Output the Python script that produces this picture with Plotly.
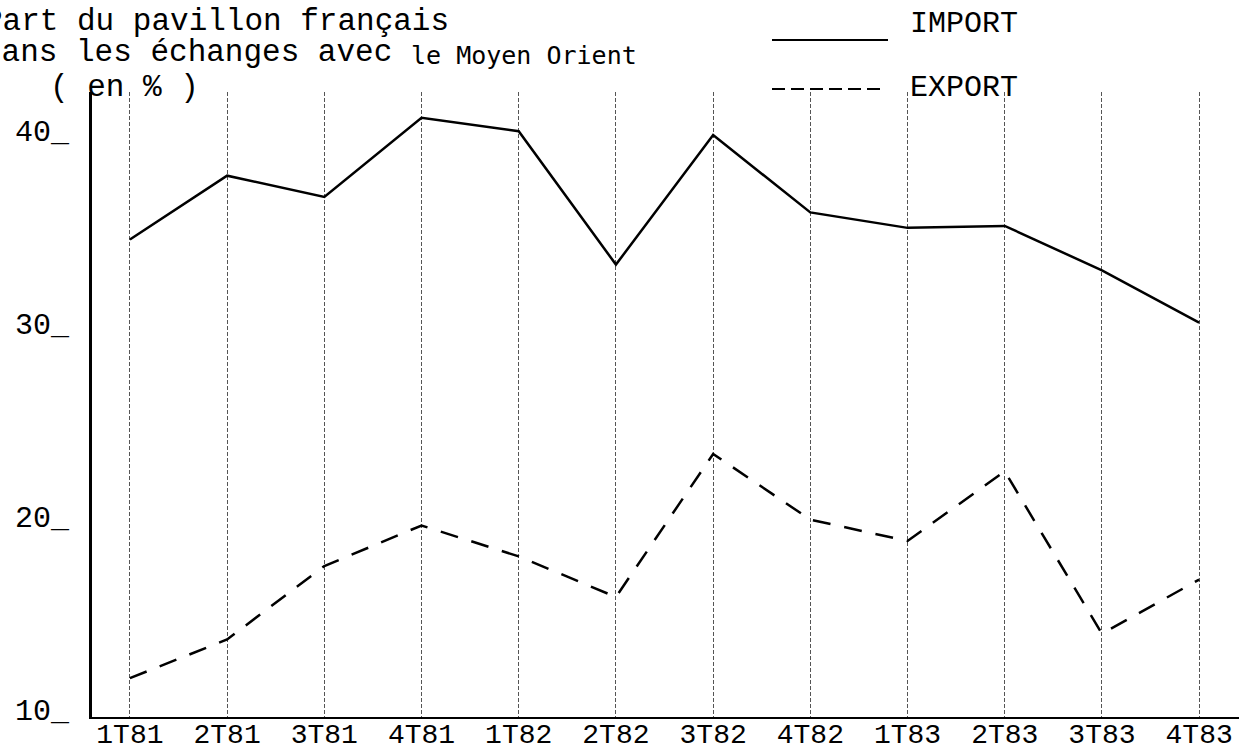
import plotly.graph_objects as go

quarters = ["1T81", "2T81", "3T81", "4T81", "1T82", "2T82",
            "3T82", "4T82", "1T83", "2T83", "3T83", "4T83"]
import_pct = [34.7, 38.0, 36.9, 41.0, 40.3, 33.4, 40.1, 36.1, 35.3, 35.4, 33.1, 30.4]
export_pct = [12.0, 14.0, 17.8, 19.9, 18.3, 16.2, 23.6, 20.2, 19.1, 22.7, 14.3, 17.1]
y_ticks = [10, 20, 30, 40]

W, H = 1239, 746
L, R, T, B = 92, 0, 92, 29
PW, PH = W - L - R, H - T - B

def px(x):
    return (x - L) / PW

def py(y):
    return (H - B - y) / PH

FONT = "Liberation Mono"
idx = list(range(len(quarters)))

fig = go.Figure()
fig.add_trace(go.Scatter(x=idx, y=import_pct, mode="lines", name="IMPORT",
                         line=dict(color="black", width=2.5), showlegend=False))
fig.add_trace(go.Scatter(x=idx, y=export_pct, mode="lines", name="EXPORT",
                         line=dict(color="black", width=2.5, dash="18px,14px"),
                         showlegend=False))

fig.update_layout(
    template="none",
    width=W, height=H,
    margin=dict(l=L, r=R, t=T, b=B, autoexpand=False),
    paper_bgcolor="white", plot_bgcolor="white",
    font=dict(family=FONT, size=30, color="black"),
    showlegend=False,
    xaxis=dict(
        range=[-0.39, 11.41], tickvals=idx, ticktext=quarters,
        showgrid=True, gridcolor="#555", gridwidth=1, griddash="4px,2px",
        showline=True, linecolor="black", linewidth=2,
        ticks="", zeroline=False, ticklabelstandoff=-10, automargin=False,
        tickfont=dict(family=FONT, size=28, color="black"),
    ),
    yaxis=dict(
        range=[9.99, 42.33], tickvals=y_ticks, ticktext=[f"{v}_" for v in y_ticks],
        showgrid=False, showline=True, linecolor="black", linewidth=3,
        ticks="", zeroline=False, ticklabelstandoff=14, ticklabelshift=-7,
        automargin=False,
        tickfont=dict(family=FONT, size=30, color="black"),
    ),
)

ann = [
    dict(text="Part du pavillon français", x=px(-18), y=py(21), font_size=31),
    dict(text="dans les échanges avec", x=px(-19), y=py(53), font_size=31),
    dict(text="le Moyen Orient", x=px(409), y=py(55),
         font=dict(family="DejaVu Sans Mono", size=25, color="black")),
    dict(text="( en % )", x=px(48), y=py(87), font_size=31),
    dict(text="IMPORT", x=px(908), y=py(24), font_size=30),
    dict(text="EXPORT", x=px(908), y=py(88), font_size=30),
]
for a in ann:
    a.update(xref="paper", yref="paper", xanchor="left", yanchor="middle",
             showarrow=False)
    if "font" not in a:
        a["font"] = dict(family=FONT, size=a.pop("font_size"), color="black")
    fig.add_annotation(**a)

fig.add_shape(type="line", xref="paper", yref="paper",
              x0=px(772), x1=px(888), y0=py(40), y1=py(40),
              line=dict(color="black", width=2))
fig.add_shape(type="line", xref="paper", yref="paper",
              x0=px(772), x1=px(886), y0=py(89), y1=py(89),
              line=dict(color="black", width=2, dash="13px,6px"))

fig.write_html("out.html", config={"displayModeBar": False},
               post_script="document.body.style.margin='0';document.body.style.overflow='hidden';")
